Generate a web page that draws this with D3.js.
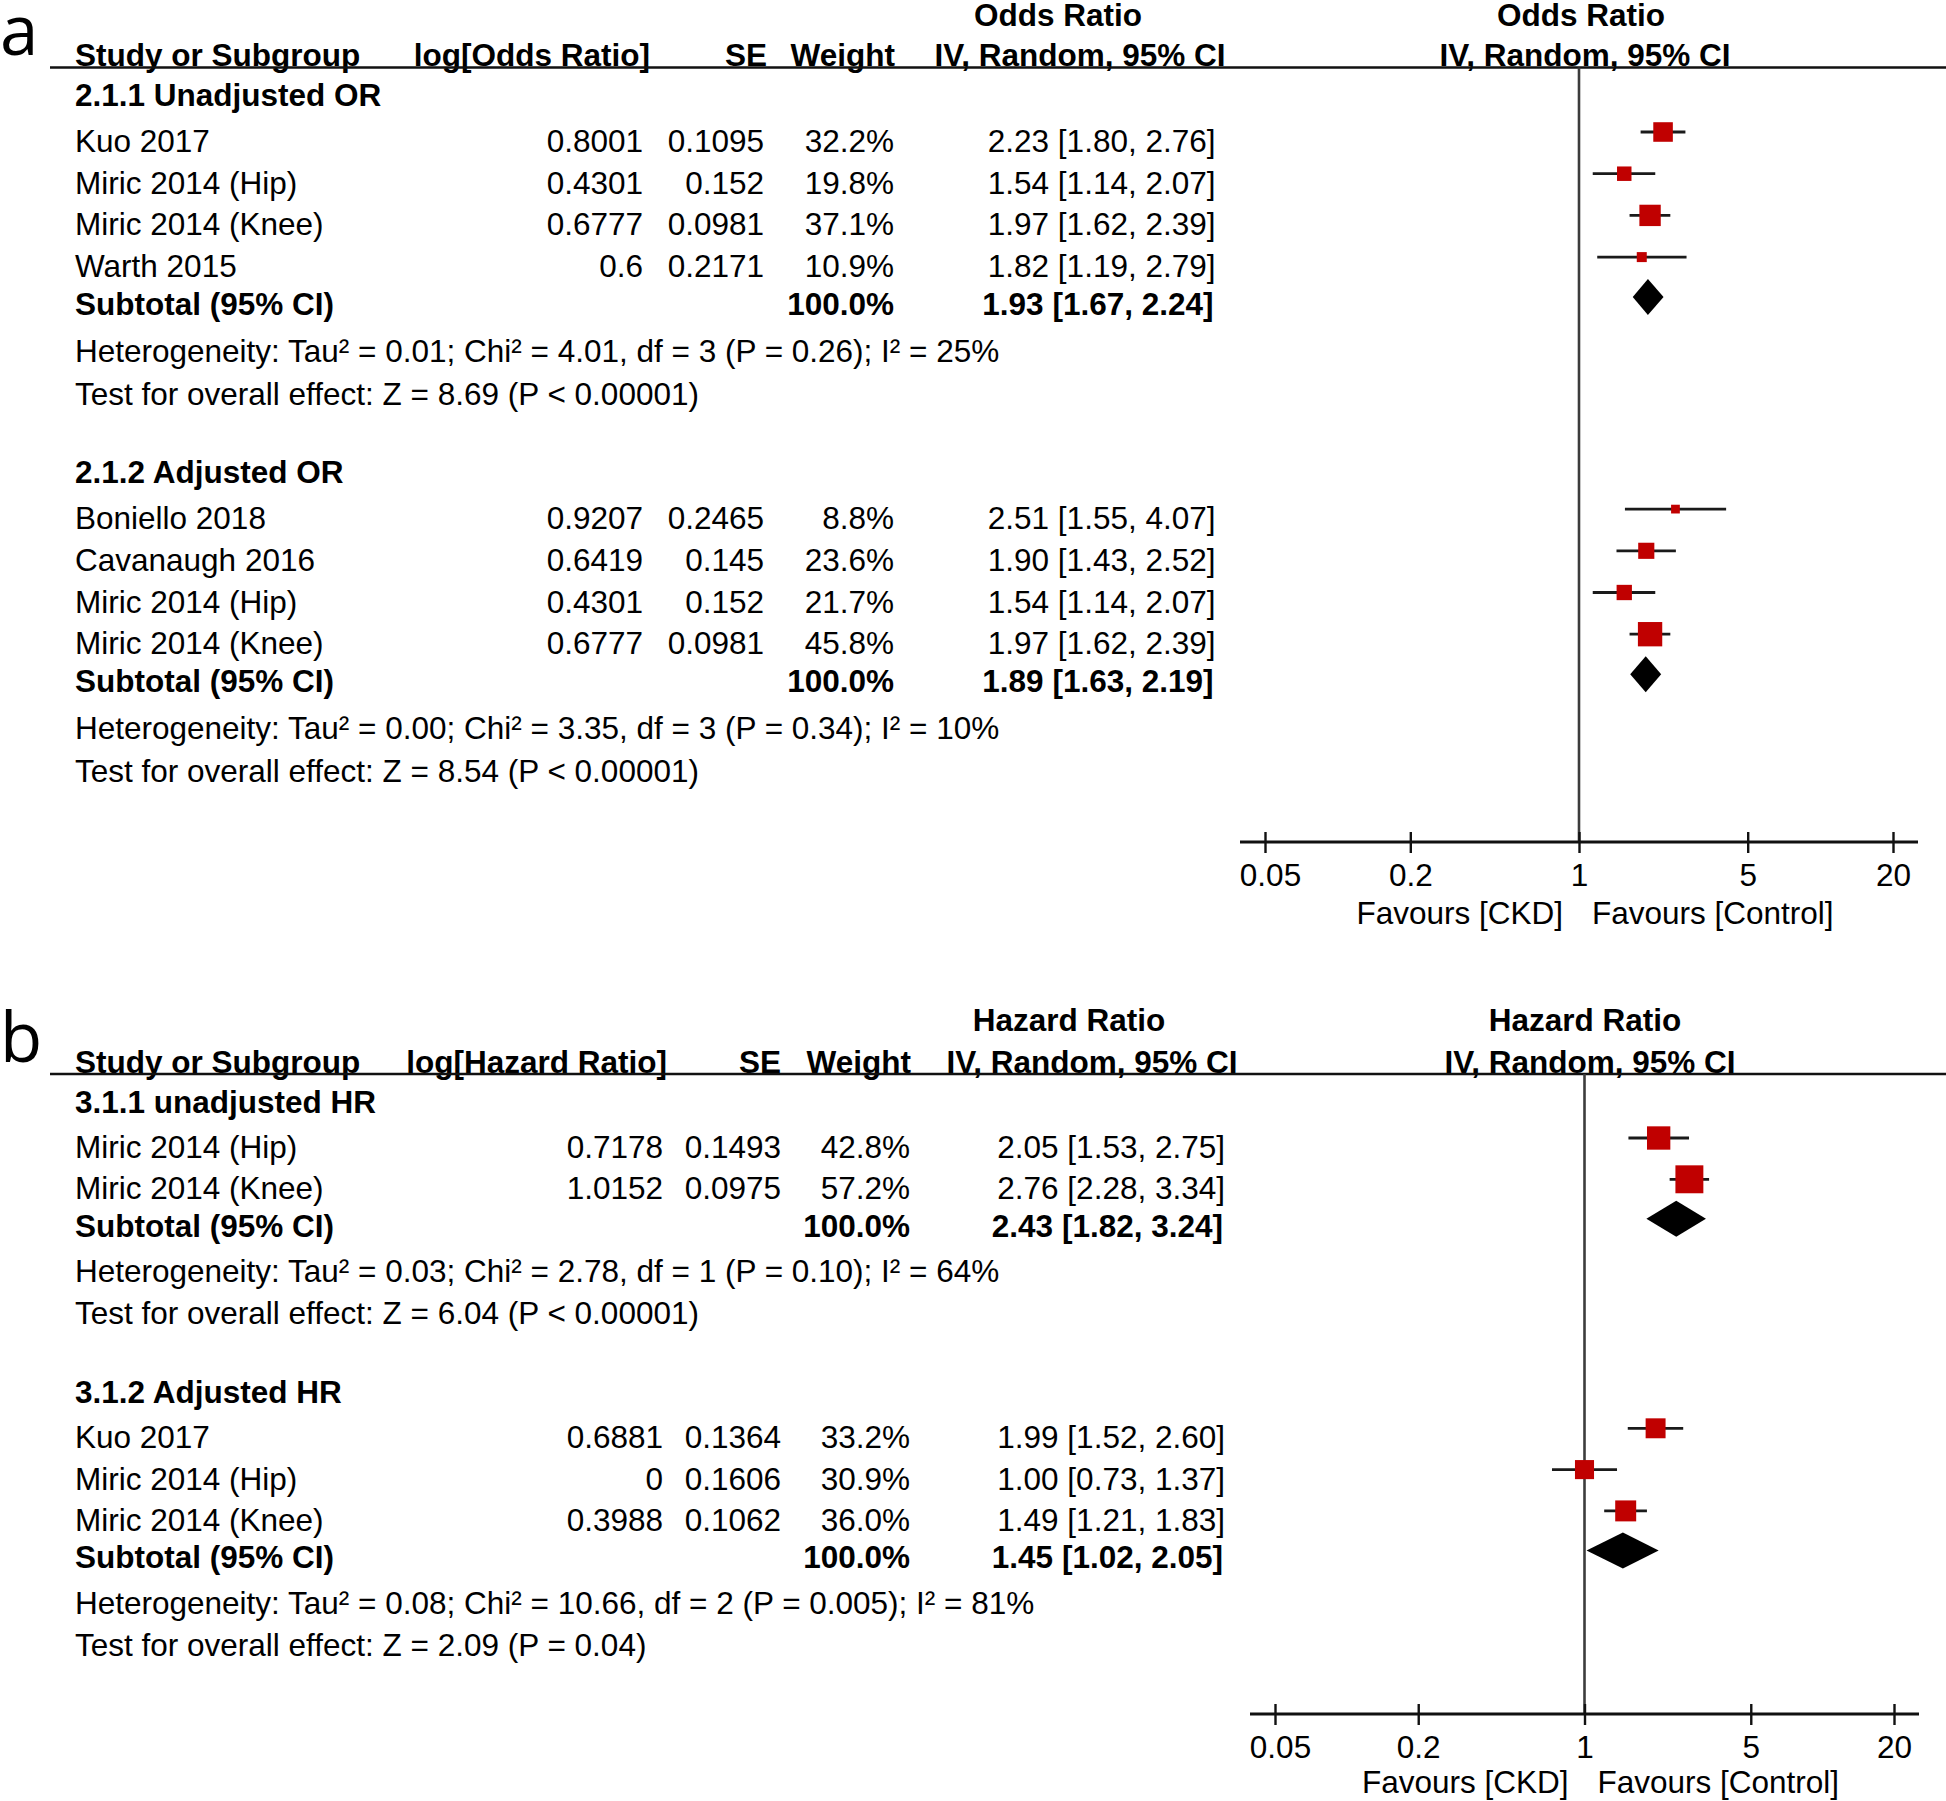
<!DOCTYPE html>
<html><head><meta charset="utf-8">
<script src="https://cdn.jsdelivr.net/npm/d3@7"></script>
<style>
html,body{margin:0;padding:0;background:#fff;}
svg text{font-family:"Liberation Sans",Arial,sans-serif;font-size:31.5px;fill:#000;}
</style></head><body>
<svg id="chart" width="1946" height="1801"></svg>
<script>
// ---------- DATA ----------
const tickValues = [0.05, 0.2, 1, 5, 20];
const tickLabels = ["0.05", "0.2", "1", "5", "20"];

// Panel a, 2.1.1 Unadjusted OR
const orUnadjTitle = "2.1.1 Unadjusted OR";
const orUnadjStudies = ["Kuo 2017", "Miric 2014 (Hip)", "Miric 2014 (Knee)", "Warth 2015"];
const orUnadjLog = [0.8001, 0.4301, 0.6777, 0.6];
const orUnadjSE = [0.1095, 0.152, 0.0981, 0.2171];
const orUnadjWeight = [32.2, 19.8, 37.1, 10.9];
const orUnadjEst = [2.23, 1.54, 1.97, 1.82];
const orUnadjLo = [1.80, 1.14, 1.62, 1.19];
const orUnadjHi = [2.76, 2.07, 2.39, 2.79];
const orUnadjTotal = [1.93, 1.67, 2.24];
const orUnadjHet = "Heterogeneity: Tau² = 0.01; Chi² = 4.01, df = 3 (P = 0.26); I² = 25%";
const orUnadjTest = "Test for overall effect: Z = 8.69 (P < 0.00001)";

// Panel a, 2.1.2 Adjusted OR
const orAdjTitle = "2.1.2 Adjusted OR";
const orAdjStudies = ["Boniello 2018", "Cavanaugh 2016", "Miric 2014 (Hip)", "Miric 2014 (Knee)"];
const orAdjLog = [0.9207, 0.6419, 0.4301, 0.6777];
const orAdjSE = [0.2465, 0.145, 0.152, 0.0981];
const orAdjWeight = [8.8, 23.6, 21.7, 45.8];
const orAdjEst = [2.51, 1.90, 1.54, 1.97];
const orAdjLo = [1.55, 1.43, 1.14, 1.62];
const orAdjHi = [4.07, 2.52, 2.07, 2.39];
const orAdjTotal = [1.89, 1.63, 2.19];
const orAdjHet = "Heterogeneity: Tau² = 0.00; Chi² = 3.35, df = 3 (P = 0.34); I² = 10%";
const orAdjTest = "Test for overall effect: Z = 8.54 (P < 0.00001)";

// Panel b, 3.1.1 unadjusted HR
const hrUnadjTitle = "3.1.1 unadjusted HR";
const hrUnadjStudies = ["Miric 2014 (Hip)", "Miric 2014 (Knee)"];
const hrUnadjLog = [0.7178, 1.0152];
const hrUnadjSE = [0.1493, 0.0975];
const hrUnadjWeight = [42.8, 57.2];
const hrUnadjEst = [2.05, 2.76];
const hrUnadjLo = [1.53, 2.28];
const hrUnadjHi = [2.75, 3.34];
const hrUnadjTotal = [2.43, 1.82, 3.24];
const hrUnadjHet = "Heterogeneity: Tau² = 0.03; Chi² = 2.78, df = 1 (P = 0.10); I² = 64%";
const hrUnadjTest = "Test for overall effect: Z = 6.04 (P < 0.00001)";

// Panel b, 3.1.2 Adjusted HR
const hrAdjTitle = "3.1.2 Adjusted HR";
const hrAdjStudies = ["Kuo 2017", "Miric 2014 (Hip)", "Miric 2014 (Knee)"];
const hrAdjLog = [0.6881, 0, 0.3988];
const hrAdjSE = [0.1364, 0.1606, 0.1062];
const hrAdjWeight = [33.2, 30.9, 36.0];
const hrAdjEst = [1.99, 1.00, 1.49];
const hrAdjLo = [1.52, 0.73, 1.21];
const hrAdjHi = [2.60, 1.37, 1.83];
const hrAdjTotal = [1.45, 1.02, 2.05];
const hrAdjHet = "Heterogeneity: Tau² = 0.08; Chi² = 10.66, df = 2 (P = 0.005); I² = 81%";
const hrAdjTest = "Test for overall effect: Z = 2.09 (P = 0.04)";

// ---------- BUILD ----------
function group(title, studies, log, se, w, est, lo, hi, total, het, test) {
  return {title, het, test, total,
    rows: studies.map((s, i) => ({name: s, log: log[i], se: se[i], w: w[i], est: est[i], lo: lo[i], hi: hi[i]}))};
}

const panels = [
  {
    letter: "a", letterY: 55, titleY: 26, headerY: 65.5, lineY: 67.5,
    cols: {study: 75, log: 643, se: 764, wt: 894, ci: 1215.5, ciBold: 1213.5},
    head: {logEnd: 650, seEnd: 767, wtEnd: 895, ciTitle: 1058, ciSub: 1080, plotTitle: 1581, plotSub: 1585},
    measure: "Odds Ratio", logLabel: "log[Odds Ratio]",
    xRange: [1265, 1893], axisY: 842, axisPad: 25, favY: 924,
    gap: {group: 40.5, first: 46, row: 41.7, sub: 38, het: 47, test: 43, next: 78},
    groups: [
      group(orUnadjTitle, orUnadjStudies, orUnadjLog, orUnadjSE, orUnadjWeight, orUnadjEst, orUnadjLo, orUnadjHi, orUnadjTotal, orUnadjHet, orUnadjTest),
      group(orAdjTitle, orAdjStudies, orAdjLog, orAdjSE, orAdjWeight, orAdjEst, orAdjLo, orAdjHi, orAdjTotal, orAdjHet, orAdjTest)
    ]
  },
  {
    letter: "b", letterY: 1062, titleY: 1031, headerY: 1072.5, lineY: 1074,
    cols: {study: 75, log: 663, se: 781, wt: 910, ci: 1225, ciBold: 1223},
    head: {logEnd: 667, seEnd: 781, wtEnd: 911, ciTitle: 1069, ciSub: 1092, plotTitle: 1585, plotSub: 1590},
    measure: "Hazard Ratio", logLabel: "log[Hazard Ratio]",
    xRange: [1275, 1894], axisY: 1714, axisPad: 25, favY: 1793,
    gap: {group: 40.5, first: 45, row: 41.3, sub: 37.5, het: 45.5, test: 42, next: 79},
    groups: [
      group(hrUnadjTitle, hrUnadjStudies, hrUnadjLog, hrUnadjSE, hrUnadjWeight, hrUnadjEst, hrUnadjLo, hrUnadjHi, hrUnadjTotal, hrUnadjHet, hrUnadjTest),
      group(hrAdjTitle, hrAdjStudies, hrAdjLog, hrAdjSE, hrAdjWeight, hrAdjEst, hrAdjLo, hrAdjHi, hrAdjTotal, hrAdjHet, hrAdjTest)
    ]
  }
];

const svg = d3.select("#chart");
const boxSize = d3.scalePow().exponent(0.62).domain([0, 100]).range([0, 39.5]);
const fmtCI = (e, l, h) => `${e.toFixed(2)} [${l.toFixed(2)}, ${h.toFixed(2)}]`;
const MARK_OFF = 20, DIAM_H = 18;

function txt(g, x, y, s, anchor, bold) {
  return g.append("text").attr("x", x).attr("y", y)
    .attr("text-anchor", anchor || "start")
    .style("font-weight", bold ? "bold" : "normal").text(s);
}

panels.forEach(p => {
  const g = svg.append("g");
  const x = d3.scaleLog().domain([tickValues[0], tickValues[tickValues.length - 1]]).range(p.xRange);

  // panel letter
  g.append("text").attr("x", 0).attr("y", p.letterY)
    .style("font-family", "'Open Sans', 'Liberation Sans', sans-serif")
    .style("font-size", "69px").text(p.letter);

  // column titles
  txt(g, p.head.ciTitle, p.titleY, p.measure, "middle", true);
  txt(g, p.head.plotTitle, p.titleY, p.measure, "middle", true);
  txt(g, p.cols.study, p.headerY, "Study or Subgroup", "start", true);
  txt(g, p.head.logEnd, p.headerY, p.logLabel, "end", true);
  txt(g, p.head.seEnd, p.headerY, "SE", "end", true);
  txt(g, p.head.wtEnd, p.headerY, "Weight", "end", true);
  txt(g, p.head.ciSub, p.headerY, "IV, Random, 95% CI", "middle", true);
  txt(g, p.head.plotSub, p.headerY, "IV, Random, 95% CI", "middle", true);

  // header rule
  g.append("line").attr("x1", 50).attr("x2", 1946).attr("y1", p.lineY).attr("y2", p.lineY)
    .attr("stroke", "#111").attr("stroke-width", 2.6);

  // vertical reference line at 1
  g.append("line").attr("x1", x(1)).attr("x2", x(1)).attr("y1", p.lineY).attr("y2", p.axisY)
    .attr("stroke", "#3c3c3c").attr("stroke-width", 2.6);

  // rows
  let y = p.headerY;
  p.groups.forEach((grp, gi) => {
    y += gi === 0 ? p.gap.group : p.gap.next;
    txt(g, p.cols.study, y, grp.title, "start", true);
    grp.rows.forEach((r, i) => {
      y += i === 0 ? p.gap.first : p.gap.row;
      txt(g, p.cols.study, y, r.name);
      txt(g, p.cols.log, y, String(r.log), "end");
      txt(g, p.cols.se, y, String(r.se), "end");
      txt(g, p.cols.wt, y, r.w.toFixed(1) + "%", "end");
      txt(g, p.cols.ci, y, fmtCI(r.est, r.lo, r.hi), "end");
      const cy = y - MARK_OFF;
      g.append("line").attr("x1", x(r.lo)).attr("x2", x(r.hi)).attr("y1", cy).attr("y2", cy)
        .attr("stroke", "#1a1a1a").attr("stroke-width", 2.8);
      const s = boxSize(r.w);
      g.append("rect").attr("x", x(r.est) - s / 2).attr("y", cy - s / 2)
        .attr("width", s).attr("height", s).attr("fill", "#c00000");
    });
    y += p.gap.sub;
    txt(g, p.cols.study, y, "Subtotal (95% CI)", "start", true);
    txt(g, p.cols.wt, y, "100.0%", "end", true);
    const [te, tl, th] = grp.total;
    txt(g, p.cols.ciBold, y, fmtCI(te, tl, th), "end", true);
    const dy = y - 18;
    g.append("polygon")
      .attr("points", [[x(tl), dy], [x(te), dy - DIAM_H], [x(th), dy], [x(te), dy + DIAM_H]].map(d => d.join(",")).join(" "))
      .attr("fill", "#000");
    y += p.gap.het;
    txt(g, p.cols.study, y, grp.het);
    y += p.gap.test;
    txt(g, p.cols.study, y, grp.test);
  });

  // axis
  const axisG = g.append("g").attr("transform", `translate(0,${p.axisY})`)
    .call(d3.axisBottom(x).tickValues(tickValues)
      .tickFormat((d, i) => tickLabels[i]).tickSizeInner(11).tickSizeOuter(0).tickPadding(11));
  axisG.select(".domain").remove();
  axisG.selectAll(".tick line").attr("y1", -10).attr("stroke", "#111").attr("stroke-width", 2.4);
  axisG.selectAll(".tick text").attr("dx", (d, i) => i === 0 ? 5 : 0);
  axisG.append("line").attr("x1", p.xRange[0] - p.axisPad).attr("x2", p.xRange[1] + p.axisPad)
    .attr("y1", 0).attr("y2", 0).attr("stroke", "#111").attr("stroke-width", 3);
  txt(g, x(1) - 16, p.favY, "Favours [CKD]", "end");
  txt(g, x(1) + 13, p.favY, "Favours [Control]", "start");
});
</script>
</body></html>
